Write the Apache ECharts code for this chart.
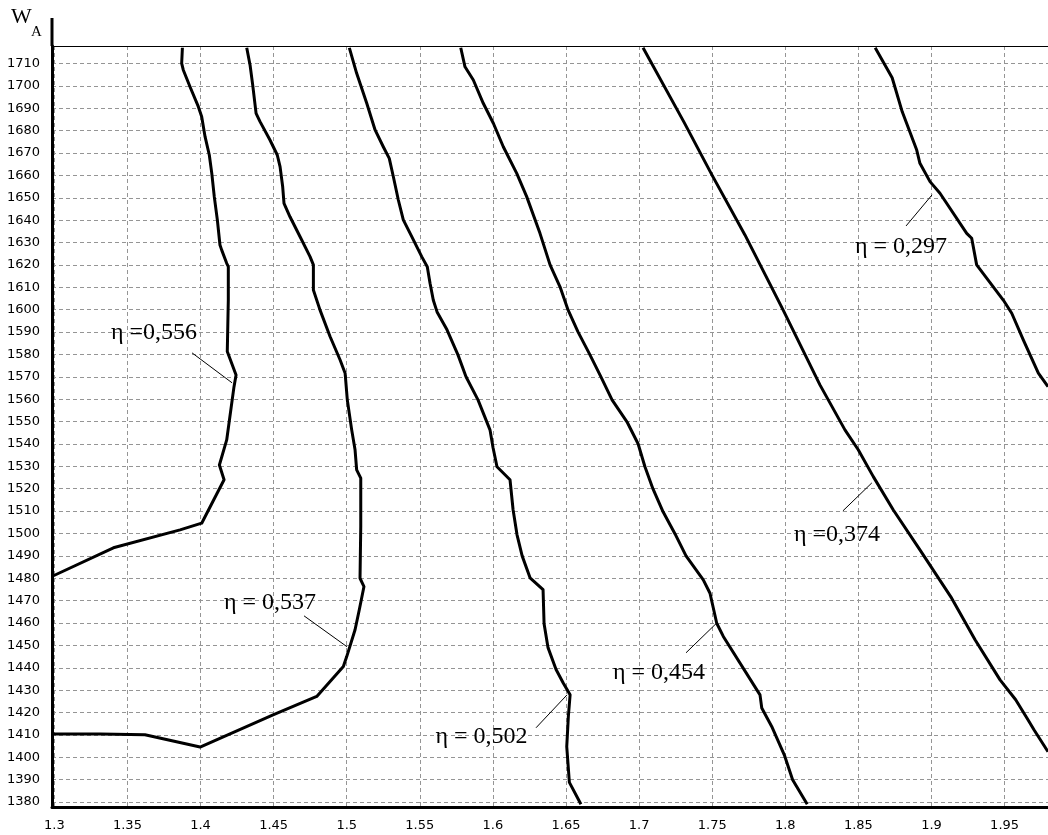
<!DOCTYPE html>
<html>
<head>
<meta charset="utf-8">
<script src="https://cdn.jsdelivr.net/npm/echarts@6/dist/echarts.min.js"></script>
<style>
  html, body { margin: 0; padding: 0; background: #fff; }
  #chart { width: 1048px; height: 835px; }
</style>
</head>
<body>
<div id="chart"></div>
<script>
// Tick values of both axes
const xTicks = [1.3, 1.35, 1.4, 1.45, 1.5, 1.55, 1.6, 1.65, 1.7, 1.75, 1.8, 1.85, 1.9, 1.95];
const yTicks = [1380, 1390, 1400, 1410, 1420, 1430, 1440, 1450, 1460, 1470, 1480, 1490, 1500,
  1510, 1520, 1530, 1540, 1550, 1560, 1570, 1580, 1590, 1600, 1610, 1620, 1630, 1640, 1650,
  1660, 1670, 1680, 1690, 1700, 1710];

// Iso-efficiency lines: [x, W_A]
const eta556 = [
  [1.3876, 1717], [1.3871, 1710], [1.3882, 1707.1], [1.3928, 1699.6], [1.3985, 1690.7],
  [1.4008, 1686.2], [1.4031, 1677.3], [1.4060, 1669.1], [1.4077, 1660.9], [1.4094, 1650.5],
  [1.4115, 1640.1], [1.4133, 1628.9], [1.4145, 1626.6], [1.4179, 1620.7], [1.4190, 1619.2],
  [1.4190, 1604.3], [1.4183, 1581.3], [1.4243, 1570.8], [1.4229, 1565.6], [1.4179, 1541.8],
  [1.4129, 1530.6], [1.4161, 1524.0], [1.4008, 1504.6], [1.3860, 1501.6], [1.3404, 1493.6],
  [1.2990, 1481.0]
];
const eta537 = [
  [1.4316, 1717], [1.4339, 1709.2], [1.4357, 1700.3], [1.4380, 1687.7], [1.4407, 1684.0],
  [1.4475, 1675.8], [1.4525, 1669.1], [1.4544, 1663.9], [1.4562, 1654.9], [1.4571, 1647.5],
  [1.4612, 1641.5], [1.4681, 1632.6], [1.4749, 1623.7], [1.4772, 1620.0], [1.4772, 1608.8],
  [1.4817, 1599.9], [1.4886, 1588.0], [1.4955, 1577.5], [1.4989, 1571.6], [1.5004, 1559.7],
  [1.5034, 1546.3], [1.5057, 1537.4], [1.5068, 1528.4], [1.5096, 1524.7], [1.5096, 1503.1],
  [1.5091, 1480.0], [1.5118, 1476.3], [1.5086, 1465.9], [1.5057, 1457.0], [1.5000, 1445.0],
  [1.4977, 1440.6], [1.4795, 1427.2], [1.4496, 1419.0], [1.3997, 1404.6], [1.3620, 1410.1],
  [1.3313, 1410.4], [1.2990, 1410.4]
];
const eta502 = [
  [1.5018, 1717], [1.5068, 1705.6], [1.5137, 1692.2], [1.5194, 1680.3], [1.5250, 1672.8],
  [1.5291, 1667.6], [1.5319, 1659.4], [1.5353, 1649.0], [1.5387, 1640.1], [1.5445, 1632.6],
  [1.5513, 1623.7], [1.5551, 1619.2], [1.5570, 1611.8], [1.5592, 1604.3], [1.5618, 1599.0],
  [1.5686, 1591.0], [1.5761, 1579.8], [1.5816, 1570.0], [1.5898, 1559.7], [1.5980, 1546.3],
  [1.6001, 1538.3], [1.6028, 1529.8], [1.6117, 1524.0], [1.6138, 1510.6], [1.6165, 1499.4],
  [1.6200, 1490.0], [1.6254, 1480.2], [1.6343, 1474.9], [1.6350, 1459.7], [1.6377, 1449.0],
  [1.6432, 1439.2], [1.6482, 1433.1], [1.6528, 1427.9], [1.6516, 1418.2], [1.6505, 1404.8],
  [1.6523, 1388.8], [1.6602, 1379.0]
];
const eta454 = [
  [1.5780, 1717], [1.5809, 1708.5], [1.5866, 1702.6], [1.5934, 1692.2], [1.6003, 1683.3],
  [1.6071, 1672.8], [1.6163, 1660.9], [1.6231, 1650.5], [1.6322, 1634.1], [1.6391, 1620.0],
  [1.6459, 1610.2], [1.6514, 1599.9], [1.6582, 1590.1], [1.6664, 1579.8], [1.6739, 1570.0],
  [1.6815, 1559.7], [1.6917, 1549.9], [1.6993, 1540.1], [1.7040, 1529.8], [1.7095, 1519.9],
  [1.7164, 1509.7], [1.7246, 1499.8], [1.7321, 1490.0], [1.7439, 1479.3], [1.7485, 1473.3],
  [1.7531, 1459.9], [1.7576, 1454.0], [1.7827, 1427.9], [1.7839, 1422.0], [1.7907, 1413.8],
  [1.7993, 1401.1], [1.8050, 1390.0], [1.8150, 1379.0]
];
const eta374 = [
  [1.7027, 1717], [1.7307, 1683.8], [1.7498, 1660.2], [1.7724, 1633.4], [1.7984, 1600.0],
  [1.8237, 1566.4], [1.8408, 1546.3], [1.8499, 1537.4], [1.8602, 1525.4], [1.8739, 1510.5],
  [1.8921, 1492.7], [1.9138, 1471.1], [1.9298, 1452.5], [1.9469, 1434.6], [1.9576, 1425.7],
  [1.9660, 1416.8], [1.9701, 1412.3], [1.9797, 1402.5]
];
const eta297 = [
  [1.8615, 1717], [1.8731, 1703.6], [1.8800, 1688.4], [1.8899, 1671.3], [1.8921, 1665.4],
  [1.8990, 1657.2], [1.9058, 1652.0], [1.9241, 1634.1], [1.9275, 1631.9], [1.9309, 1620.0],
  [1.9491, 1604.3], [1.9549, 1598.4], [1.9628, 1586.5], [1.9731, 1571.6], [1.9797, 1565.6]
];

const curves = [eta556, eta537, eta502, eta454, eta374, eta297];
const curveNames = ['η =0,556', 'η = 0,537', 'η = 0,502', 'η = 0,454', 'η =0,374', 'η = 0,297'];

// Callout placement in axis units: text centre, leader start, leader end on the line
const calloutText = [[1.3682, 1589.6], [1.4475, 1469.0], [1.5922, 1409.2], [1.7136, 1437.7], [1.8354, 1499.4], [1.8791, 1628.0]];
const leaderFrom = [[1.3942, 1580.7], [1.4708, 1463.2], [1.6295, 1413.2], [1.7321, 1446.7], [1.8394, 1510.1], [1.8826, 1637.4]];
const leaderTo = [[1.4216, 1567.3], [1.5002, 1449.4], [1.6507, 1427.9], [1.7526, 1459.7], [1.8592, 1522.6], [1.9004, 1651.3]];

const X_MIN = 1.2984, X_MAX = 1.9797;
const Y_MIN = 1377.8, Y_MAX = 1717.8;

const tickFont = { fontFamily: 'DejaVu Sans', fontSize: 13, color: '#000' };
const gridLine = { show: true, lineStyle: { color: '#959595', width: 1, type: [4, 3] } };

const chart = echarts.init(document.getElementById('chart'), null, { renderer: 'canvas' });

chart.setOption({
  animation: false,
  backgroundColor: '#fff',
  grid: { left: 52, right: 0, top: 46, bottom: 28, containLabel: false },
  xAxis: [
    {
      type: 'value', position: 'bottom', min: X_MIN, max: X_MAX,
      axisLine: { show: true, onZero: false, lineStyle: { color: '#000', width: 3 } },
      axisTick: { show: false, customValues: xTicks },
      axisLabel: Object.assign({ customValues: xTicks, margin: 12, formatter: v => String(+(+v).toFixed(2)) }, tickFont),
      splitLine: gridLine
    },
    {
      type: 'value', position: 'top', min: X_MIN, max: X_MAX,
      axisLine: { show: true, onZero: false, lineStyle: { color: '#000', width: 1 } },
      axisTick: { show: false }, axisLabel: { show: false }, splitLine: { show: false }
    }
  ],
  yAxis: {
    type: 'value', min: Y_MIN, max: Y_MAX,
    axisLine: { show: true, onZero: false, lineStyle: { color: '#000', width: 3 } },
    axisTick: { show: false, customValues: yTicks },
    axisLabel: Object.assign({ customValues: yTicks, margin: 12, formatter: v => String(Math.round(v)) }, tickFont),
    splitLine: gridLine
  },
  series: curves.map((d, i) => ({
    name: curveNames[i],
    type: 'line',
    xAxisIndex: 0,
    data: d,
    showSymbol: false,
    symbol: 'none',
    clip: true,
    lineStyle: { color: '#000', width: 3, join: 'round' },
    markLine: {
      silent: true, symbol: 'none', animation: false,
      label: { show: false },
      lineStyle: { color: '#000', width: 1, type: 'solid' },
      data: [[{ coord: leaderFrom[i] }, { coord: leaderTo[i] }]]
    }
  }))
});

// Callout texts, axis title and the axis stub above the plot
function drawOverlay() {
  const toPx = p => chart.convertToPixel({ xAxisIndex: 0, yAxisIndex: 0 }, p);
  const texts = calloutText.map((p, i) => {
    const q = toPx(p);
    return {
      type: 'text', silent: true,
      style: {
        text: curveNames[i], x: q[0], y: q[1], align: 'center', verticalAlign: 'middle',
        font: '24px "Liberation Serif", "Times New Roman", serif', fill: '#000'
      }
    };
  });
  const top = toPx([X_MIN, Y_MAX]);
  const extras = [
    {
      type: 'line', silent: true,
      shape: { x1: top[0], y1: 18, x2: top[0], y2: top[1] },
      style: { stroke: '#000', lineWidth: 3 }
    },
    {
      type: 'text', silent: true,
      style: { text: 'W', x: 11, y: 17, align: 'left', verticalAlign: 'middle',
        font: '22px "Liberation Serif", "Times New Roman", serif', fill: '#000' }
    },
    {
      type: 'text', silent: true,
      style: { text: 'A', x: 31, y: 32.5, align: 'left', verticalAlign: 'middle',
        font: '15px "Liberation Serif", "Times New Roman", serif', fill: '#000' }
    }
  ];
  chart.setOption({ graphic: { elements: texts.concat(extras) } });
}
drawOverlay();
</script>
</body>
</html>
